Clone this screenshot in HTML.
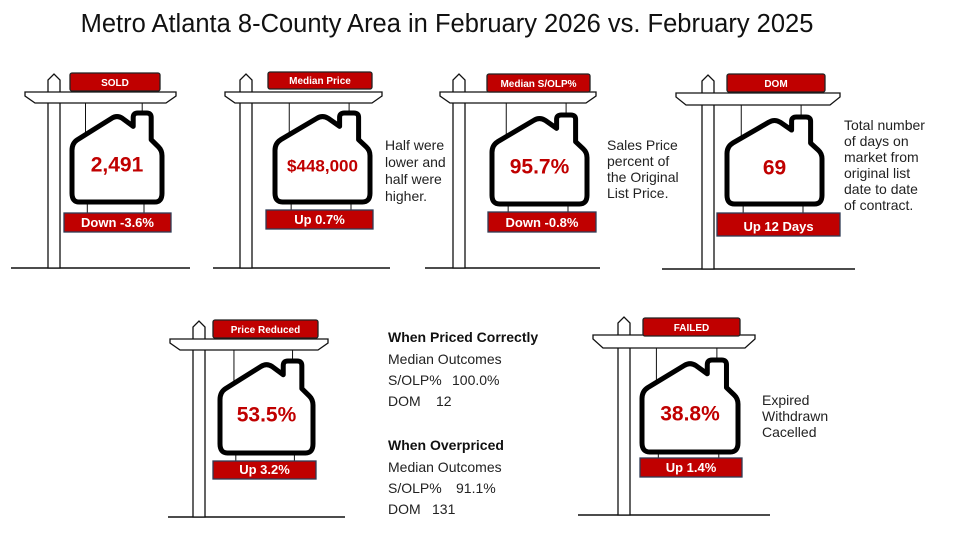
<!DOCTYPE html>
<html><head><meta charset="utf-8"><style>
body{margin:0;background:#fff;width:957px;height:537px;overflow:hidden}
svg{display:block}
text{font-family:"Liberation Sans",sans-serif}
</style></head><body>
<svg id="s" width="957" height="537" viewBox="0 0 957 537" xmlns="http://www.w3.org/2000/svg">
<text x="447" y="32" text-anchor="middle" font-size="25.5" fill="#111">Metro Atlanta 8-County Area in February 2026 vs. February 2025</text>
<g font-size="14" fill="#222">
<text x="385" y="150">Half were</text><text x="385" y="167">lower and</text><text x="385" y="184">half were</text><text x="385" y="201">higher.</text>
<text x="607" y="150">Sales Price</text><text x="607" y="166">percent of</text><text x="607" y="182">the Original</text><text x="607" y="198">List Price.</text>
<text x="844" y="130">Total number</text><text x="844" y="146">of days on</text><text x="844" y="162">market from</text><text x="844" y="178">original list</text><text x="844" y="194">date to date</text><text x="844" y="210">of contract.</text>
<text x="762" y="405">Expired</text><text x="762" y="421">Withdrawn</text><text x="762" y="437">Cacelled</text>
<text x="388" y="342" font-weight="bold" fill="#111">When Priced Correctly</text>
<text x="388" y="364">Median Outcomes</text>
<text x="388" y="385">S/OLP%</text><text x="452" y="385">100.0%</text>
<text x="388" y="406">DOM</text><text x="436" y="406">12</text>
<text x="388" y="450" font-weight="bold" fill="#111">When Overpriced</text>
<text x="388" y="472">Median Outcomes</text>
<text x="388" y="493">S/OLP%</text><text x="456" y="493">91.1%</text>
<text x="388" y="514">DOM</text><text x="432" y="514">131</text>
</g>
</svg>
<script>
var svg=document.getElementById('s');
var signs=[
 {p:48,c:[25,176,92,103],t:[70,160,73,91],h:[72,113,162,202],b:[64,171,213,232],g:[11,190,268],top:'SOLD',num:'2,491',bot:'Down -3.6%',fs:21},
 {p:240,c:[225,382,92,103],t:[268,372,72,89],h:[275,113,370,202],b:[266,373,210,229],g:[213,390,268],top:'Median Price',num:'$448,000',bot:'Up 0.7%',fs:17},
 {p:453,c:[440,596,92,103],t:[487,590,74,92],h:[492,115,587,204],b:[488,596,212,232],g:[425,600,268],top:'Median S/OLP%',num:'95.7%',bot:'Down -0.8%',fs:21},
 {p:702,c:[676,840,93,105],t:[727,825,74,92],h:[727,117,822,204],b:[717,840,213,236],g:[662,855,269],top:'DOM',num:'69',bot:'Up 12 Days',fs:21},
 {p:193,c:[170,328,339,350],t:[213,318,320,338],h:[220,361,313,453],b:[213,316,461,479],g:[168,345,517],top:'Price Reduced',num:'53.5%',bot:'Up 3.2%',fs:21},
 {p:618,c:[593,755,335,348],t:[643,740,318,336],h:[642,360,738,452],b:[640,742,458,477],g:[578,770,515],top:'FAILED',num:'38.8%',bot:'Up 1.4%',fs:21}
];
var o='';
signs.forEach(function(s){
 var c=s.c,t=s.t,h=s.h,b=s.b,g=s.g,p=s.p,pw=12;
 var w=h[2]-h[0],hh=h[3]-h[1];
 o+='<line x1="'+g[0]+'" y1="'+g[2]+'" x2="'+g[1]+'" y2="'+g[2]+'" stroke="#111" stroke-width="1.5"/>';
 var pk=c[2]-18;
 o+='<polygon points="'+p+','+g[2]+' '+p+','+(pk+6)+' '+(p+pw/2)+','+pk+' '+(p+pw)+','+(pk+6)+' '+(p+pw)+','+g[2]+'" fill="#fff" stroke="#111" stroke-width="1.3"/>';
 o+='<polygon points="'+c[0]+','+c[2]+' '+c[1]+','+c[2]+' '+c[1]+','+(c[2]+4)+' '+(c[1]-10)+','+c[3]+' '+(c[0]+10)+','+c[3]+' '+c[0]+','+(c[2]+4)+'" fill="#fff" stroke="#111" stroke-width="1.3"/>';
 o+='<rect x="'+t[0]+'" y="'+t[2]+'" width="'+(t[1]-t[0])+'" height="'+(t[3]-t[2])+'" rx="2" fill="#c00000" stroke="#222" stroke-width="1.3"/>';
 o+='<text x="'+((t[0]+t[1])/2)+'" y="'+(t[3]-5)+'" text-anchor="middle" font-size="10" font-weight="bold" fill="#fff">'+s.top+'</text>';
 var l1=h[0]+0.15*w,r1=h[0]+0.78*w;
 o+='<line x1="'+l1+'" y1="'+c[3]+'" x2="'+l1+'" y2="'+(h[1]+0.3*hh)+'" stroke="#111"/>';
 o+='<line x1="'+r1+'" y1="'+c[3]+'" x2="'+r1+'" y2="'+h[1]+'" stroke="#111"/>';
 var l2=h[0]+0.17*w,r2=h[0]+0.8*w;
 o+='<line x1="'+l2+'" y1="'+h[3]+'" x2="'+l2+'" y2="'+b[2]+'" stroke="#111"/>';
 o+='<line x1="'+r2+'" y1="'+h[3]+'" x2="'+r2+'" y2="'+b[2]+'" stroke="#111"/>';
 var X=function(f){return h[0]+f*w},Y=function(f){return h[1]+f*hh};
 var d='M'+X(0.08)+','+Y(1)+' Q'+X(0)+','+Y(1)+' '+X(0)+','+Y(0.9)+' L'+X(0)+','+Y(0.42)+' Q'+X(0)+','+Y(0.34)+' '+X(0.06)+','+Y(0.3)+' L'+X(0.44)+','+Y(0.06)+' Q'+X(0.5)+','+Y(0.02)+' '+X(0.56)+','+Y(0.06)+' L'+X(0.68)+','+Y(0.15)+' L'+X(0.68)+','+Y(0.05)+' Q'+X(0.68)+','+Y(0)+' '+X(0.73)+','+Y(0)+' L'+X(0.83)+','+Y(0)+' Q'+X(0.88)+','+Y(0)+' '+X(0.88)+','+Y(0.05)+' L'+X(0.88)+','+Y(0.3)+' L'+X(0.96)+','+Y(0.38)+' Q'+X(1)+','+Y(0.42)+' '+X(1)+','+Y(0.48)+' L'+X(1)+','+Y(0.9)+' Q'+X(1)+','+Y(1)+' '+X(0.92)+','+Y(1)+' Z';
 o+='<path d="'+d+'" fill="#fff" stroke="#000" stroke-width="5" stroke-linejoin="round"/>';
 o+='<text x="'+X(0.5)+'" y="'+Y(0.66)+'" text-anchor="middle" font-size="'+s.fs+'" font-weight="bold" fill="#c00000">'+s.num+'</text>';
 o+='<rect x="'+b[0]+'" y="'+b[2]+'" width="'+(b[1]-b[0])+'" height="'+(b[3]-b[2])+'" fill="#c00000" stroke="#2f3b55" stroke-width="1.3"/>';
 o+='<text x="'+((b[0]+b[1])/2)+'" y="'+(b[3]-5)+'" text-anchor="middle" font-size="13" font-weight="bold" fill="#fff">'+s.bot+'</text>';
});
svg.insertAdjacentHTML('beforeend',o);
</script>
</body></html>
